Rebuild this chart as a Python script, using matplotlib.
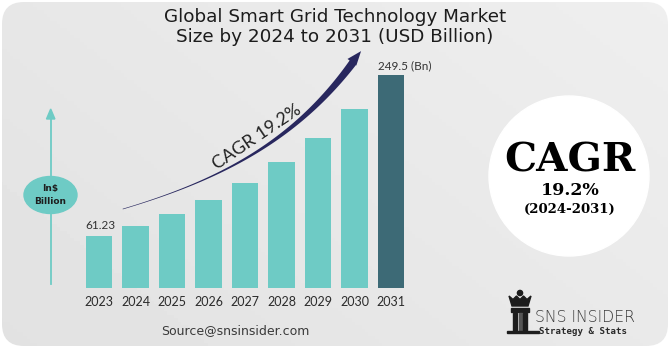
import matplotlib.pyplot as plt
import numpy as np
from matplotlib.patches import FancyBboxPatch, Ellipse, Circle, Polygon, Rectangle

# data
years = ['2023', '2024', '2025', '2026', '2027', '2028', '2029', '2030', '2031']
values = [61.23, 73.0, 87.0, 103.7, 123.6, 147.4, 175.7, 209.4, 249.5]
first_label = '61.23'
last_label = '249.5 (Bn)'
title = 'Global Smart Grid Technology Market\nSize by 2024 to 2031 (USD Billion)'
cagr_text = 'CAGR 19.2%'
cagr_value = '19.2%'
period = '(2024-2031)'

teal = '#6ecbc5'
dark_teal = '#3d6a76'
navy = '#28275e'
W, H = 670, 350

fig = plt.figure(figsize=(6.7, 3.5), dpi=100)
fig.patch.set_facecolor('white')

# background layer in pixel coordinates (y pointing down)
bg = fig.add_axes([0, 0, 1, 1])
bg.set_xlim(0, W)
bg.set_ylim(H, 0)
bg.axis('off')

box = FancyBboxPatch((2, 2), W - 4, H - 6, boxstyle='round,pad=0,rounding_size=22',
                     facecolor='none', edgecolor='none')
bg.add_patch(box)
gx = np.linspace(0, 1, 200)
gy = np.linspace(0, 1, 100)
GX, GY = np.meshgrid(gx, gy)
shade = 0.885 + 0.05 * np.clip(0.6 * GX + 0.4 * (1 - GY), 0, 1)
img = bg.imshow(shade, cmap='gray', vmin=0, vmax=1, extent=(0, W, H, 0), aspect='auto')
img.set_clip_path(box)

bg.text(W / 2, 27, title, ha='center', va='center', fontsize=13.2, color='#1c1c1c',
        linespacing=1.15, family='DejaVu Sans')

# left "In$ Billion" marker
bg.plot([50.7, 50.7], [118, 284], color=teal, lw=1.3)
bg.add_patch(Polygon([(46.5, 119), (54.9, 119), (50.7, 109)], color=teal))
bg.add_patch(Ellipse((50.5, 195), 53, 37, color=teal))
bg.text(50.5, 189, 'In$', ha='center', va='center', fontsize=6.5, fontweight='bold',
        color='#1e1e1e', family='DejaVu Sans')
bg.text(50.5, 201, 'Billion', ha='center', va='center', fontsize=6.5, fontweight='bold',
        color='#1e1e1e', family='DejaVu Sans')

# right CAGR badge
bg.add_patch(Circle((569, 176), 80, color='white'))
bg.text(570, 172, 'CAGR', ha='center', va='baseline', fontsize=29, fontweight='heavy',
        family='DejaVu Serif', color='black')
bg.text(570, 195, cagr_value, ha='center', va='baseline', fontsize=12.5, fontweight='bold',
        family='DejaVu Serif', color='black')
bg.text(570, 213, period, ha='center', va='baseline', fontsize=9.5, fontweight='bold',
        family='DejaVu Serif', color='black')

bg.text(235, 331, 'Source@snsinsider.com', ha='center', va='center', fontsize=9,
        color='#3a3a3a', family='DejaVu Sans')

# logo
ink = '#1d1d1d'
bg.add_patch(Circle((520, 293), 2.6, color=ink))
bg.add_patch(Polygon([(509, 296), (513, 299.5), (516.5, 296), (520, 299.5), (523.5, 296),
                      (527, 299.5), (531, 296), (528, 306), (512, 306)], color=ink))
bg.add_patch(Rectangle((511, 308), 18, 4, color=ink))
bg.add_patch(Rectangle((513, 313), 4, 18, color=ink))
bg.add_patch(Rectangle((518.5, 313), 3, 18, color='#555555'))
bg.add_patch(Rectangle((523, 313), 4, 18, color=ink))
bg.add_patch(Rectangle((507, 330.5), 32, 2, color=ink))
bg.text(535, 318, 'SNS INSIDER', ha='left', va='center', fontsize=11.3, color='#3c3c3c',
        family='DejaVu Sans', fontweight='light')
bg.text(539, 331.5, 'Strategy & Stats', ha='left', va='center', fontsize=6.6,
        color='#2a2a2a', family='DejaVu Sans Mono', fontweight='bold')

# bar chart
ax = fig.add_axes([80.75 / W, 62 / H, 328.5 / W, 256 / H])
ax.patch.set_alpha(0)
x = np.arange(len(years))
colors = [teal] * (len(years) - 1) + [dark_teal]
ax.bar(x, values, width=0.72, color=colors)
ax.set_xlim(-0.5, len(years) - 0.5)
ax.set_ylim(0, 300)
ax.set_xticks(x)
ax.set_xticklabels(years, fontsize=9, color='#2b2b2b', family='Lato')
ax.tick_params(axis='x', length=0, pad=6)
ax.set_yticks([])
for s in ax.spines.values():
    s.set_visible(False)

ax.text(x[0] - 0.36, values[0] + 5, first_label, ha='left', va='bottom', fontsize=8.5,
        color='#333333', family='Lato')
ax.text(x[-1] - 0.36, values[-1] + 5, last_label, ha='left', va='bottom', fontsize=8.5,
        color='#333333', family='Lato')

# curved CAGR arrow (cubic bezier in data units, widened in pixels)
ctrl = np.array([[0.65, 92.5], [3.32, 126.5], [5.51, 173.4], [7.18, 277.6]])

def bezier(t):
    t = np.atleast_1d(t)[:, None]
    return ((1 - t) ** 3 * ctrl[0] + 3 * (1 - t) ** 2 * t * ctrl[1]
            + 3 * (1 - t) * t ** 2 * ctrl[2] + t ** 3 * ctrl[3])

t_head = 0.955
tt = np.linspace(0, t_head, 200)
pts = ax.transData.transform(bezier(tt))
d = np.gradient(pts, axis=0)
d /= np.linalg.norm(d, axis=1)[:, None]
nrm = np.column_stack([-d[:, 1], d[:, 0]])
half = 0.3 + 3.6 * (tt / t_head) ** 2
left = pts + nrm * half[:, None]
right = pts - nrm * half[:, None]
tip = ax.transData.transform(bezier(1.0))[0]
base = pts[-1]
hn = nrm[-1]
head = [base + hn * 6.5, tip, base - hn * 4.5]
poly = np.vstack([left, head, right[::-1]])
ax.add_patch(Polygon(ax.transData.inverted().transform(poly), color=navy, clip_on=False, lw=0))

ax.text(4.33, 177, cagr_text, ha='center', va='center', rotation=34, rotation_mode='anchor',
        fontsize=13, color='#222222', family='Lato')

fig.savefig('out.png', dpi=100)
